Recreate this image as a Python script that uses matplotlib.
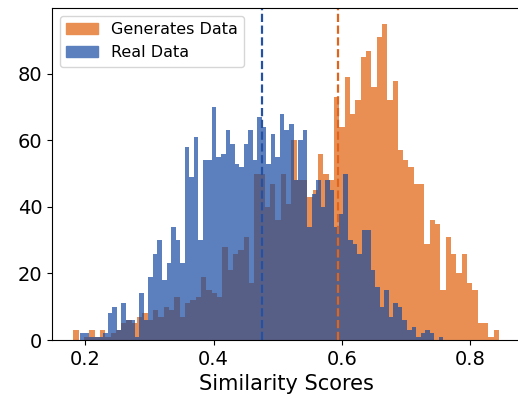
import numpy as np
import matplotlib
matplotlib.use("Agg")
import matplotlib.pyplot as plt
from matplotlib.patches import Patch

# Histogram counts (80 bins each)
gen_range = (0.1812, 0.8451)
gen_counts = [3, 0, 1, 3, 1, 3, 1, 2, 3, 5,
              6, 5, 7, 8, 6, 9, 7, 10, 9, 13,
              7, 11, 12, 13, 19, 15, 14, 13, 28, 21,
              26, 27, 31, 17, 50, 50, 40, 47, 36, 50,
              41, 60, 48, 48, 43, 45, 56, 50, 48, 73,
              64, 79, 68, 72, 85, 87, 76, 91, 95, 72,
              78, 57, 54, 52, 47, 47, 29, 36, 35, 15,
              31, 26, 20, 26, 17, 15, 5, 5, 1, 3]

real_range = (0.1922, 0.7583)
real_counts = [2, 2, 1, 1, 1, 2, 8, 10, 3, 11,
               6, 6, 1, 14, 6, 19, 26, 30, 18, 23,
               34, 30, 23, 58, 49, 61, 30, 54, 54, 70,
               55, 56, 63, 59, 53, 52, 59, 63, 54, 67,
               64, 53, 62, 55, 68, 63, 65, 48, 60, 63,
               34, 44, 48, 40, 48, 45, 34, 38, 50, 30,
               29, 26, 33, 33, 21, 16, 10, 15, 7, 11,
               10, 6, 3, 4, 1, 2, 3, 2, 0, 1]

gen_mean = 0.594
real_mean = 0.4763

labels = ["Generates Data", "Real Data"]
xticks = [0.2, 0.4, 0.6, 0.8]
yticks = [0, 20, 40, 60, 80]

c_gen = "#e98f54"
c_real = "#5b80bd"
c_both = "#585f86"

gen_edges = np.linspace(gen_range[0], gen_range[1], len(gen_counts) + 1)
real_edges = np.linspace(real_range[0], real_range[1], len(real_counts) + 1)

# overlap region = min of the two step functions
all_edges = np.union1d(gen_edges, real_edges)
mids = (all_edges[:-1] + all_edges[1:]) / 2

def step_val(edges, counts, x):
    idx = np.searchsorted(edges, x) - 1
    out = np.zeros_like(x)
    ok = (idx >= 0) & (idx < len(counts))
    out[ok] = np.asarray(counts, float)[idx[ok]]
    return out

overlap = np.minimum(step_val(gen_edges, gen_counts, mids),
                     step_val(real_edges, real_counts, mids))

fig = plt.figure(figsize=(5.18, 4.04), dpi=100)
ax = fig.add_axes([52 / 518, 64 / 404, (520 - 52) / 518, (340 - 8) / 404])

ax.stairs(gen_counts, gen_edges, fill=True, color=c_gen, linewidth=0)
ax.stairs(real_counts, real_edges, fill=True, color=c_real, linewidth=0)
ax.stairs(overlap, all_edges, fill=True, color=c_both, linewidth=0)

ax.axvline(real_mean, color="#2451a3", linestyle="--", linewidth=1.6)
ax.axvline(gen_mean, color="#e0641c", linestyle="--", linewidth=1.6)

ax.set_xlim(0.148, 0.878)
ax.set_ylim(0, 99.8)
ax.set_xticks(xticks)
ax.set_xticklabels([f"{t:.1f}" for t in xticks])
ax.set_yticks(yticks)
ax.tick_params(labelsize=14)
ax.set_xlabel("Similarity Scores", fontsize=15)

handles = [Patch(color=c_gen, label=labels[0]), Patch(color=c_real, label=labels[1])]
ax.legend(handles=handles, loc="upper left", fontsize=11.5)

fig.savefig("out.png", dpi=100)
